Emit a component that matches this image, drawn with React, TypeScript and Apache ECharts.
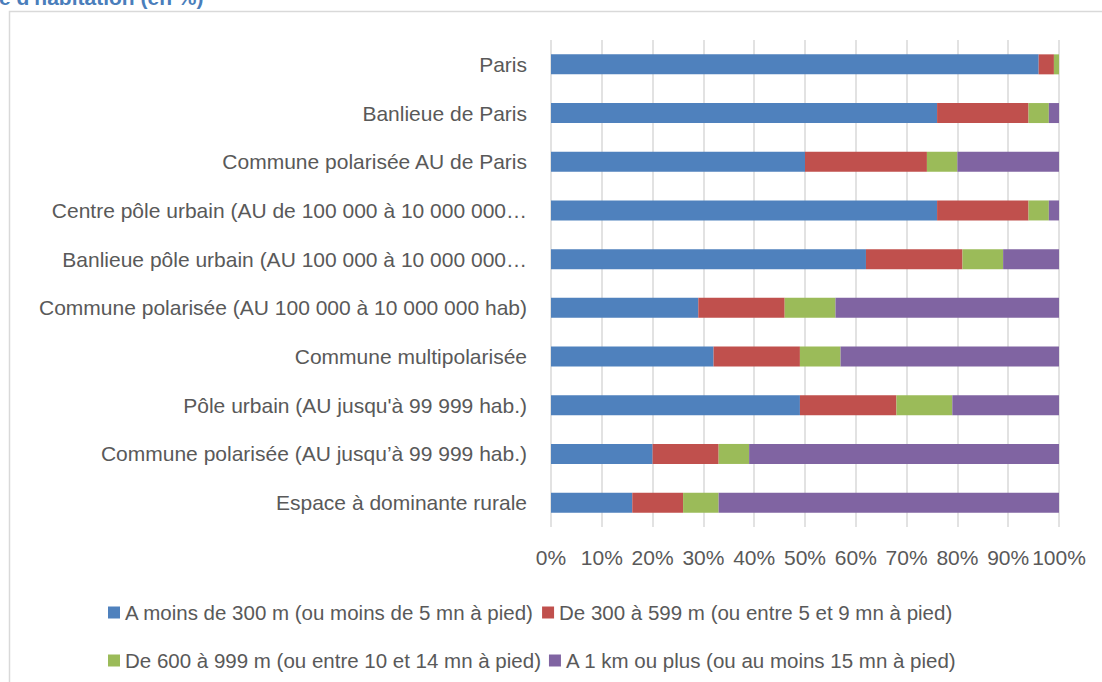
import React, { useEffect, useRef } from "react";
import * as echarts from "echarts";

const categories = [
  "Paris",
  "Banlieue de Paris",
  "Commune polarisée AU de Paris",
  "Centre pôle urbain (AU de 100 000 à 10 000 000…",
  "Banlieue pôle urbain (AU 100 000 à 10 000 000…",
  "Commune polarisée (AU 100 000 à 10 000 000 hab)",
  "Commune multipolarisée",
  "Pôle urbain (AU jusqu'à 99 999 hab.)",
  "Commune polarisée (AU jusqu’à 99 999 hab.)",
  "Espace à dominante rurale",
];

const seriesNames = [
  "A moins de 300 m (ou moins de 5 mn à pied)",
  "De 300 à 599 m (ou entre 5 et 9 mn à pied)",
  "De 600 à 999 m (ou entre 10 et 14 mn à pied)",
  "A 1 km ou plus (ou au moins 15 mn à pied)",
];

const moins300 = [96, 76, 50, 76, 62, 29, 32, 49, 20, 16];
const de300a599 = [3, 18, 24, 18, 19, 17, 17, 19, 13, 10];
const de600a999 = [1, 4, 6, 4, 8, 10, 8, 11, 6, 7];
const plus1km = [0, 2, 20, 2, 11, 44, 43, 21, 61, 67];

const colors = ["#4f81bd", "#c0504d", "#9bbb59", "#8064a2"];
const xTicks = { min: 0, max: 100, interval: 10 };
const titleText = "e d'habitation (en %)";

const FONT = "'Liberation Sans', Arial, sans-serif";
const TEXT = "#595959";

export default function App() {
  const ref = useRef<HTMLDivElement>(null);
  useEffect(() => {
    if (!ref.current) return;
    const chart = echarts.init(ref.current, undefined, { renderer: "svg" });
    const values = [moins300, de300a599, de600a999, plus1km];
    const legendBase = {
      left: 103,
      icon: "rect",
      itemWidth: 12,
      itemHeight: 12,
      itemGap: 8,
      textStyle: { fontSize: 20.5, color: TEXT, fontFamily: FONT },
    };
    chart.setOption({
      animation: false,
      backgroundColor: "#ffffff",
      color: colors,
      graphic: [
        {
          type: "rect",
          shape: { x: 9.5, y: 11.5, width: 1200, height: 800 },
          style: { fill: "none", stroke: "#d9d9d9", lineWidth: 1.5 },
          silent: true,
        },
        {
          type: "text",
          x: -1,
          y: -3,
          style: {
            text: titleText,
            fontSize: 21,
            fontWeight: "bold",
            fill: "#4a7ebb",
            fontFamily: FONT,
            verticalAlign: "middle",
          },
        },
      ],
      grid: { left: 551, right: 43, top: 40, height: 487, containLabel: false },
      xAxis: {
        type: "value",
        min: xTicks.min,
        max: xTicks.max,
        interval: xTicks.interval,
        axisLine: { show: false },
        axisTick: { show: false },
        splitLine: { lineStyle: { color: "#d9d9d9", width: 1.5 } },
        axisLabel: {
          formatter: "{value}%",
          fontSize: 21,
          color: TEXT,
          fontFamily: FONT,
          margin: 20,
        },
      },
      yAxis: {
        type: "category",
        data: categories,
        inverse: true,
        axisLine: { show: false },
        axisTick: { show: false },
        axisLabel: { fontSize: 21, color: TEXT, fontFamily: FONT, margin: 24 },
      },
      legend: [
        { ...legendBase, top: 597, data: [seriesNames[0], seriesNames[1]] },
        { ...legendBase, top: 645, data: [seriesNames[2], seriesNames[3]] },
      ],
      series: seriesNames.map((name, i) => ({
        name,
        type: "bar",
        stack: "total",
        barWidth: 20,
        data: values[i],
        itemStyle: { color: colors[i] },
      })),
    });
    return () => chart.dispose();
  }, []);
  return (
    <div
      ref={ref}
      style={{ position: "absolute", left: 0, top: 0, width: 1102, height: 682 }}
    />
  );
}
